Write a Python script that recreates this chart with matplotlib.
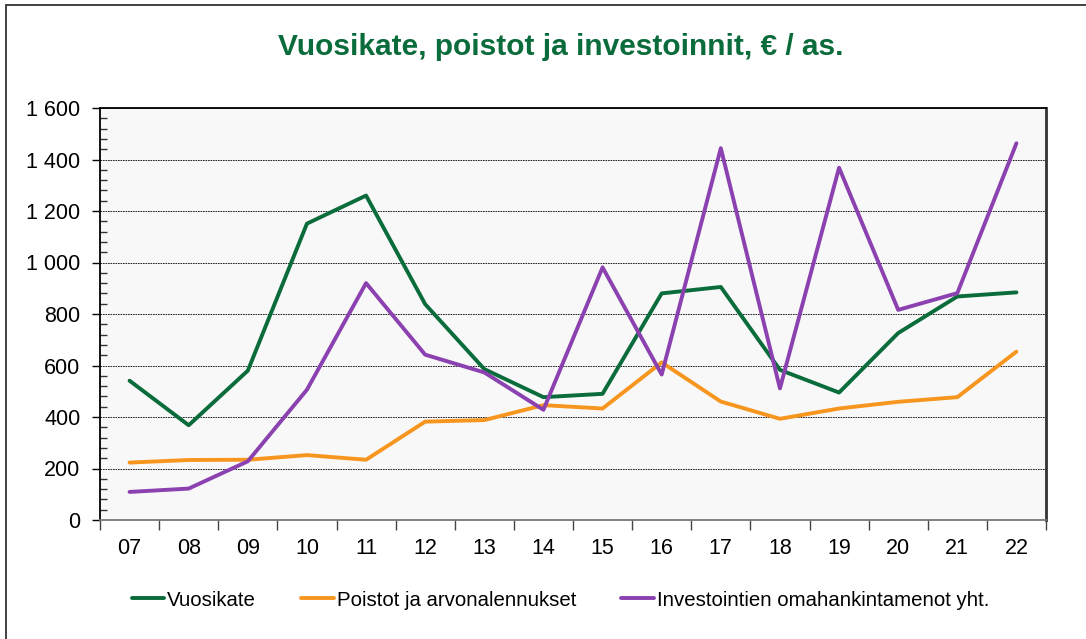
import numpy as np
import matplotlib
matplotlib.use("Agg")
import matplotlib.pyplot as plt
from matplotlib.ticker import FixedLocator, MultipleLocator, FuncFormatter
from matplotlib.patches import Rectangle

plt.rcParams['font.family'] = ['Liberation Sans', 'DejaVu Sans']

# Data
years = ["07", "08", "09", "10", "11", "12", "13", "14", "15", "16", "17", "18", "19", "20", "21", "22"]
vuosikate = [541, 368, 580, 1151, 1260, 838, 586, 477, 490, 880, 905, 583, 495, 726, 868, 884]
poistot = [223, 233, 234, 252, 234, 382, 388, 446, 433, 612, 460, 393, 433, 459, 477, 654]
investoinnit = [109, 122, 228, 506, 920, 642, 573, 428, 981, 565, 1444, 511, 1368, 816, 881, 1463]

GREEN = '#0A6B3B'
ORANGE = '#F7961F'
PURPLE = '#8B41B0'

W, H = 1086, 639
fig = plt.figure(figsize=(W / 100, H / 100), dpi=100)
ax = fig.add_axes([100 / W, 1 - 520 / H, 946 / W, 412 / H])
ax.set_facecolor('#F8F8F8')

x = np.arange(len(years))
ax.plot(x, vuosikate, color=GREEN, lw=2.8, label="Vuosikate", solid_capstyle='round')
ax.plot(x, poistot, color=ORANGE, lw=2.8, label="Poistot ja arvonalennukset", solid_capstyle='round')
ax.plot(x, investoinnit, color=PURPLE, lw=2.8, label="Investointien omahankintamenot yht.", solid_capstyle='round')

ax.set_xlim(-0.5, len(years) - 0.5)
ax.set_ylim(0, 1600)

# y axis
ax.yaxis.set_major_locator(MultipleLocator(200))
ax.yaxis.set_minor_locator(MultipleLocator(40))
ax.yaxis.set_major_formatter(FuncFormatter(lambda v, p: f"{int(v):,}".replace(",", " ")))
ax.tick_params(axis='y', which='major', direction='out', length=6, width=1, labelsize=15.5, pad=8, colors='black')
ax.tick_params(axis='y', which='minor', direction='in', length=5, width=1, color='#333333')
ax.grid(axis='y', which='major', color='black', linestyle=(0, (2, 1)), linewidth=0.6)

# x axis: ticks between categories, labels at centers
ax.xaxis.set_major_locator(FixedLocator(np.arange(-0.5, len(years), 1.0)))
ax.xaxis.set_minor_locator(FixedLocator(x))
ax.set_xticklabels([], minor=False)
ax.set_xticklabels(years, minor=True)
ax.tick_params(axis='x', which='major', direction='out', length=7, width=1, color='#444444')
ax.tick_params(axis='x', which='minor', length=0, labelsize=15.5, pad=13)

for s in ['left', 'top']:
    ax.spines[s].set_color('black')
    ax.spines[s].set_linewidth(1.3)
ax.spines['right'].set_color('#333333')
ax.spines['right'].set_linewidth(2)
ax.spines['bottom'].set_color('#777777')
ax.spines['bottom'].set_linewidth(1.3)

fig.text(0.516, 1 - 47 / H, "Vuosikate, poistot ja investoinnit, € / as.",
         ha='center', va='center', fontsize=21.5, fontweight='bold', color=GREEN)

fig.legend(loc='center', bbox_to_anchor=(0.516, 1 - 600 / H), ncol=3, frameon=False,
           fontsize=14.7, handlelength=1.6, handletextpad=0.15, columnspacing=2.2)

# outer chart border (only left/top visible in the crop)
fig.patches.append(Rectangle((6 / W, -0.1), 1.2, 1 - 5 / H + 0.1, transform=fig.transFigure,
                             fill=False, edgecolor='#333333', linewidth=1.3))

fig.savefig("out.png", dpi=100)
